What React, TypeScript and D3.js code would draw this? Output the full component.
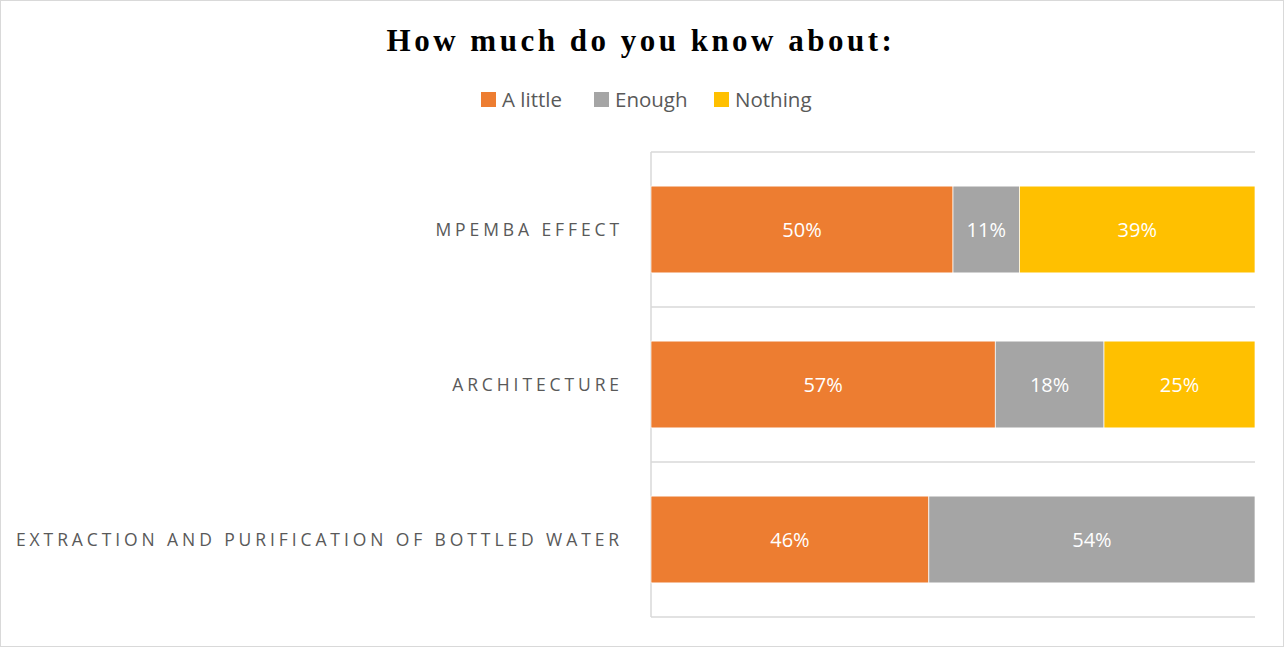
import React from "react";
import * as d3 from "d3";

const categories = ["MPEMBA EFFECT", "ARCHITECTURE", "EXTRACTION AND PURIFICATION OF BOTTLED WATER"];
const series = ["A little", "Enough", "Nothing"];
const aLittle = [50, 57, 46];
const enough = [11, 18, 54];
const nothing = [39, 25, 0];
const colors = ["#ED7D31", "#A5A5A5", "#FFC000"];

const W = 1285;
const H = 648;
const left = 651;
const right = 1255;
const top = 152;
const bottom = 617;

export default function App() {
  const x = d3.scaleLinear().domain([0, 100]).range([left, right]);
  const y = d3.scaleBand<string>().domain(categories).range([top, bottom]).paddingInner(0.44).paddingOuter(0.22);
  const step = y.step();
  const rows = categories.map((c, i) => ({ c, vals: [aLittle[i], enough[i], nothing[i]] }));
  const stacked = d3.stack<any>().keys(["0", "1", "2"]).value((d: any, k: string) => d.vals[+k])(rows as any);

  const sans = "'Open Sans', 'Liberation Sans', sans-serif";
  const legendX = [481, 594, 714];

  return (
    <svg width={W} height={H} style={{ position: "absolute", left: 0, top: 0 }}>
      <rect x={0.5} y={0.5} width={W - 2} height={H - 2} fill="#fff" stroke="#d9d9d9" />
      <text x={641} y={51} textAnchor="middle" fontFamily="'Liberation Serif', 'Times New Roman', serif" fontWeight="bold" fontSize={31} letterSpacing={3.5} fill="#000">
        How much do you know about:
      </text>
      {series.map((s, i) => (
        <g key={s}>
          <rect x={legendX[i]} y={92} width={15} height={15} fill={colors[i]} />
          <text x={legendX[i] + 21} y={107} fontFamily={sans} fontSize={20.5} fill="#595959">
            {s}
          </text>
        </g>
      ))}
      {d3.range(categories.length + 1).map((i) => (
        <line key={i} x1={left} x2={right} y1={top + i * step} y2={top + i * step} stroke="#d9d9d9" strokeWidth={1.5} />
      ))}
      <line x1={left} x2={left} y1={top} y2={bottom} stroke="#d9d9d9" strokeWidth={1.5} />
      {stacked.map((layer, si) => (
        <g key={si}>
          {layer.map((d: any, ci: number) => {
            const v = d[1] - d[0];
            if (v <= 0) return null;
            const bx = x(d[0]);
            const bw = x(d[1]) - x(d[0]);
            const by = y(categories[ci])!;
            return (
              <g key={ci}>
                <rect x={bx} y={by} width={bw} height={y.bandwidth()} fill={colors[si]} stroke="#fff" strokeWidth={0.7} />
                <text x={bx + bw / 2} y={by + y.bandwidth() / 2 + 7} textAnchor="middle" fontFamily={sans} fontSize={20} fill="#fff">
                  {v}%
                </text>
              </g>
            );
          })}
        </g>
      ))}
      {categories.map((c) => (
        <text key={c} x={623} y={y(c)! + y.bandwidth() / 2 + 6} textAnchor="end" fontFamily={sans} fontSize={17.5} letterSpacing={3.9} fill="#595959">
          {c}
        </text>
      ))}
    </svg>
  );
}
